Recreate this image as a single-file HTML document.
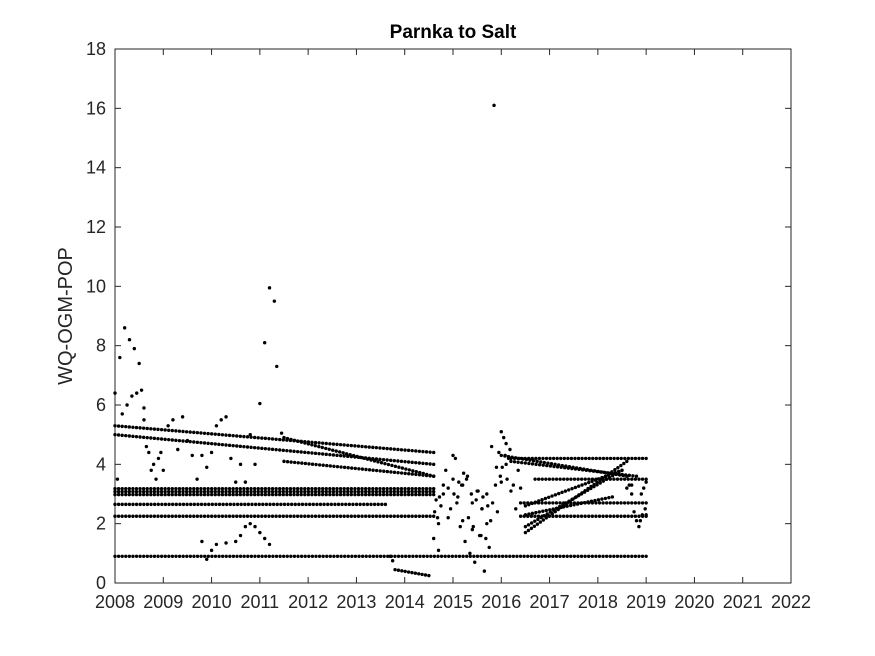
<!DOCTYPE html>
<html><head><meta charset="utf-8"><style>
body{margin:0;background:#fff;}
svg{display:block;font-family:"Liberation Sans",Arial,sans-serif;}
</style></head><body>
<svg id="chart" width="875" height="656" viewBox="0 0 875 656">
<rect width="875" height="656" fill="#fff"/>
<text x="453" y="38" text-anchor="middle" font-size="19" font-weight="bold">Parnka to Salt</text>
<text transform="translate(72,316) rotate(-90)" text-anchor="middle" font-size="20" fill="#262626">WQ-OGM-POP</text>
<g id="axes"></g>
<g id="marks"></g>
</svg>
<script>
const xTicks=[2008,2009,2010,2011,2012,2013,2014,2015,2016,2017,2018,2019,2020,2021,2022];
const yTicks=[0,2,4,6,8,10,12,14,16,18];
// dotted line runs: [startYear,startValue,endYear,endValue]
const runs=[
[2008,0.9,2019,0.9],[2008,2.25,2014.6,2.25],[2008,2.65,2013.6,2.65],
[2008,2.98,2014.6,2.98],[2008,3.08,2014.6,3.08],[2008,3.18,2014.6,3.18],
[2008,5.3,2014.6,4.4],[2008,5.0,2014.6,4.0],[2011.5,4.9,2014.6,3.6],[2011.5,4.1,2014.6,3.6],
[2013.8,0.45,2014.5,0.25],
[2016.2,4.2,2019,4.2],[2016.2,4.1,2018.8,3.6],[2016.0,4.3,2018.6,3.6],[2016.7,3.5,2019,3.5],
[2016.4,2.7,2019,2.7],[2016.4,2.25,2019,2.25],
[2016.5,1.7,2018.6,4.1],[2016.5,1.9,2018.5,3.8],[2016.5,2.3,2018.3,2.9],[2016.5,2.6,2018.5,3.8]
];
const ptYears=[2008.0,2008.05,2008.1,2008.15,2008.2,2008.25,2008.3,2008.35,2008.4,2008.45,2008.5,2008.55,2008.6,2008.6,2008.65,2008.7,2008.75,2008.8,2008.85,2008.9,2008.95,2009.0,2009.1,2009.2,2009.3,2009.4,2009.5,2009.6,2009.7,2009.8,2009.9,2010.0,2010.1,2010.2,2010.3,2010.4,2010.5,2010.6,2010.7,2010.8,2010.9,2011.0,2011.1,2011.2,2011.3,2011.35,2011.45,
2009.8,2009.9,2010.0,2010.1,2010.3,2010.5,2010.6,2010.7,2010.8,2010.9,2011.0,2011.1,2011.2,2013.7,2013.75,
2014.6,2014.65,2014.7,2014.75,2014.8,2014.85,2014.9,2015.0,2015.05,2015.1,2015.15,2015.2,2015.25,2015.3,2015.35,2015.4,2015.45,2015.5,2015.55,2015.6,2015.65,2015.7,2015.75,2015.8,2015.85,2015.9,2015.95,2016.0,2016.05,2016.1,2016.15,2016.2,2016.3,2016.35,2016.4,2014.7,2014.8,2015.0,2015.2,2015.4,2015.6,2015.7,2016.0,2016.1,
2014.62,2014.68,2014.72,2014.9,2014.95,2015.02,2015.08,2015.12,2015.18,2015.22,2015.28,2015.32,2015.38,2015.42,2015.48,2015.52,2015.58,2015.62,2015.68,2015.72,2015.78,2015.82,2015.88,2015.92,2015.98,2016.02,2016.08,2016.12,2016.18,2016.25,
2018.6,2018.65,2018.7,2018.8,2018.85,2018.9,2018.95,2019.0,2018.75,2018.88,2018.92,2018.98,2019.0,2018.7];
const ptValues=[6.4,3.5,7.6,5.7,8.6,6.0,8.2,6.3,7.9,6.4,7.4,6.5,5.9,5.5,4.6,4.4,3.8,4.0,3.5,4.2,4.4,3.8,5.3,5.5,4.5,5.6,4.8,4.3,3.5,4.3,3.9,4.4,5.3,5.5,5.6,4.2,3.4,4.0,3.4,5.0,4.0,6.05,8.1,9.95,9.5,7.3,5.05,
1.4,0.8,1.1,1.3,1.35,1.4,1.6,1.9,2.0,1.9,1.7,1.5,1.3,0.9,0.75,
1.5,2.8,1.1,2.6,3.0,3.8,2.2,3.5,4.2,2.9,1.9,3.3,1.4,3.6,1.0,2.7,0.7,3.1,1.6,2.5,0.4,3.0,1.2,4.6,16.1,3.9,4.4,3.4,4.9,4.7,4.2,3.1,2.5,3.8,3.2,2.0,3.3,4.3,2.1,1.8,2.5,2.0,5.1,4.0,
2.4,2.2,2.9,3.2,2.5,3.0,2.7,3.4,3.3,3.7,3.5,2.2,3.0,1.9,2.8,3.1,1.6,2.9,1.5,2.6,2.1,2.7,3.3,2.4,3.6,3.9,4.3,3.5,4.5,3.3,
3.2,3.3,3.0,2.1,1.9,3.0,3.2,3.4,2.4,2.1,2.3,2.5,2.3,3.3];
const X0=115,X1=791,Y0=583,Y1=49;
const xs=v=>X0+(v-2008)/(2022-2008)*(X1-X0);
const ys=v=>Y0-(v-0)/18*(Y0-Y1);
const NS='http://www.w3.org/2000/svg';
const ax=document.getElementById('axes'),mk=document.getElementById('marks');
function el(t,a,p){const e=document.createElementNS(NS,t);for(const k in a)e.setAttribute(k,a[k]);p.appendChild(e);return e;}
const box=el('rect',{x:X0,y:Y1,width:X1-X0,height:Y0-Y1,fill:'none',stroke:'#262626','stroke-width':1},ax);


xTicks.forEach(t=>{const x=xs(t);
 el('line',{x1:x,x2:x,y1:Y0,y2:Y0-6,stroke:'#262626'},ax);
 el('line',{x1:x,x2:x,y1:Y1,y2:Y1+6,stroke:'#262626'},ax);
 const tx=el('text',{x:x,y:Y0+25,'text-anchor':'middle','font-size':18,fill:'#262626'},ax);tx.textContent=t;
 
 });
yTicks.forEach(t=>{const y=ys(t);
 el('line',{x1:X0,x2:X0+6,y1:y,y2:y,stroke:'#262626'},ax);
 el('line',{x1:X1,x2:X1-6,y1:y,y2:y,stroke:'#262626'},ax);
 const tx=el('text',{x:X0-9,y:y+6,'text-anchor':'end','font-size':18,fill:'#262626'},ax);tx.textContent=t;
 
 });
function dot(x,y){const c=el('circle',{cx:x,cy:y,r:1.7,fill:'#000'},mk);
 
 }
runs.forEach(r=>{const x0=xs(r[0]),y0=ys(r[1]),x1=xs(r[2]),y1=ys(r[3]);
 const n=Math.max(1,Math.round(Math.hypot(x1-x0,y1-y0)/3.6));
 for(let i=0;i<=n;i++)dot(x0+(x1-x0)*i/n,y0+(y1-y0)*i/n);});
ptYears.forEach((yr,i)=>dot(xs(yr),ys(ptValues[i])));
</script>
</body></html>
